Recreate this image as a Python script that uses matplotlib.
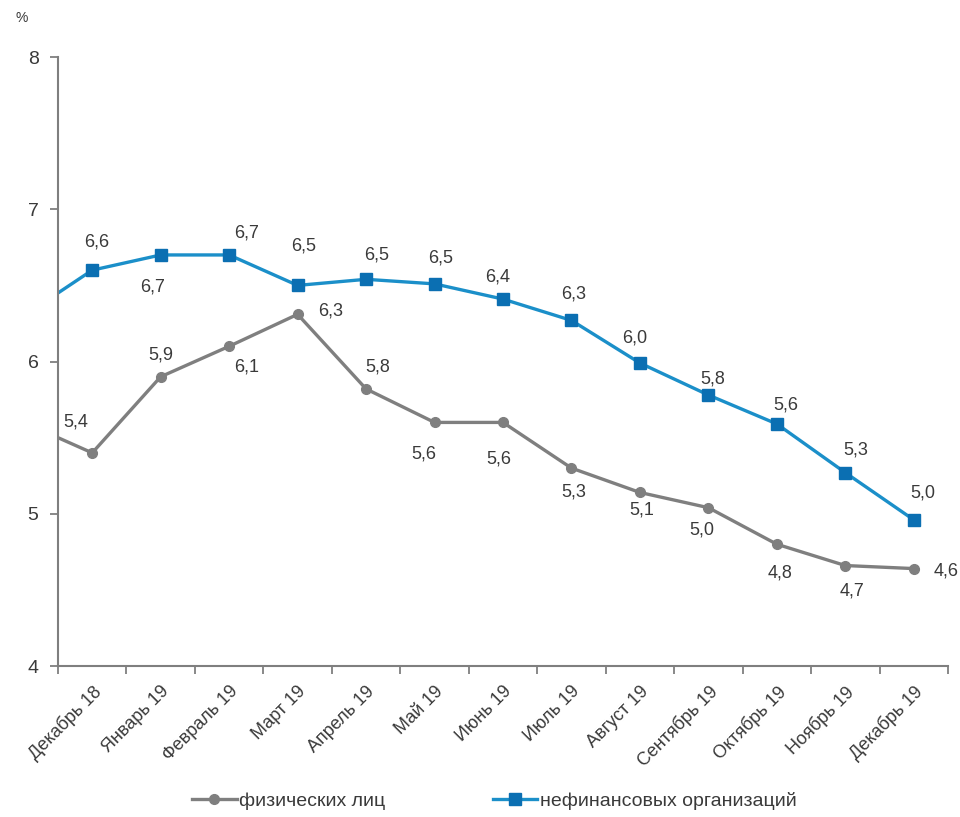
import numpy as np
import matplotlib
matplotlib.use("Agg")
import matplotlib.pyplot as plt

plt.rcParams['font.family'] = ['Liberation Sans', 'DejaVu Sans']

# Ноябрь 18 is only seen as the clipped line start at the left edge
months = ["Ноябрь 18", "Декабрь 18", "Январь 19", "Февраль 19", "Март 19", "Апрель 19",
          "Май 19", "Июнь 19", "Июль 19", "Август 19", "Сентябрь 19",
          "Октябрь 19", "Ноябрь 19", "Декабрь 19"]
persons = [5.60, 5.40, 5.90, 6.10, 6.31, 5.82, 5.60, 5.60, 5.30, 5.14, 5.04, 4.80, 4.66, 4.64]
companies = [6.30, 6.60, 6.70, 6.70, 6.50, 6.54, 6.51, 6.41, 6.27, 5.99, 5.78, 5.59, 5.27, 4.96]

# label offsets in pixels (dx, dy), y up
persons_off = [(0, 0), (-16, 31), (0, 22), (17, -21), (33, 3), (12, 22), (-11, -32),
               (-4, -37), (2, -24), (2, -18), (-7, -22), (3, -29), (7, -25), (32, -2)]
companies_off = [(0, 0), (4, 28), (-8, -32), (17, 22), (6, 39), (11, 24), (6, 26),
                 (-5, 22), (2, 26), (-5, 25), (4, 16), (9, 19), (10, 23), (9, 27)]

gray = "#7f7f7f"
blue_line = "#1b8fc9"
blue_mark = "#0b6fb2"
txt = "#3a3a3a"

fig = plt.figure(figsize=(9.6, 8.17), dpi=100)
ax = fig.add_axes([0.0604, 0.1848, 0.9271, 0.7454])

x = np.arange(len(months)) - 1
ax.plot(x, persons, color=gray, lw=2.4, marker="o", ms=7, mfc=gray, mec=gray,
        label="физических лиц")
ax.plot(x, companies, color=blue_line, lw=2.4, marker="s", ms=8, mfc=blue_mark,
        mec=blue_mark, label="нефинансовых организаций")

for i in range(1, len(months)):
    for vals, offs in ((persons, persons_off), (companies, companies_off)):
        ax.annotate(f"{vals[i]:.1f}".replace(".", ","), (x[i], vals[i]),
                    xytext=offs[i], textcoords="offset pixels",
                    ha="center", va="center", fontsize=13, color=txt)

ax.set_xlim(-0.5, 12.5)
ax.set_ylim(4, 8)
ax.set_yticks([4, 5, 6, 7, 8])
ax.set_xticks(x[1:])
ax.set_xticklabels(months[1:], rotation=45, ha="right", rotation_mode="anchor",
                   fontsize=13, color=txt)
ax.set_xticks(np.arange(-0.5, 13, 1), minor=True)
ax.tick_params(axis="x", which="major", length=0, pad=12)
ax.tick_params(axis="x", which="minor", length=6, width=1.3, color=gray, direction="out")
ax.tick_params(axis="y", length=6, width=1.3, color=gray, labelsize=14,
               labelcolor=txt, pad=8)
for s in ("top", "right"):
    ax.spines[s].set_visible(False)
for s in ("left", "bottom"):
    ax.spines[s].set_color(gray)
    ax.spines[s].set_linewidth(1.5)

fig.text(0.016, 0.978, "%", fontsize=10, color=txt, ha="left", va="center")

fig.legend(loc="center", bbox_to_anchor=(0.515, 0.02), ncol=2, frameon=False,
           fontsize=14, handlelength=2.3, handletextpad=0.15, columnspacing=5.5,
           labelcolor=txt)

fig.savefig("out.png", dpi=100)
